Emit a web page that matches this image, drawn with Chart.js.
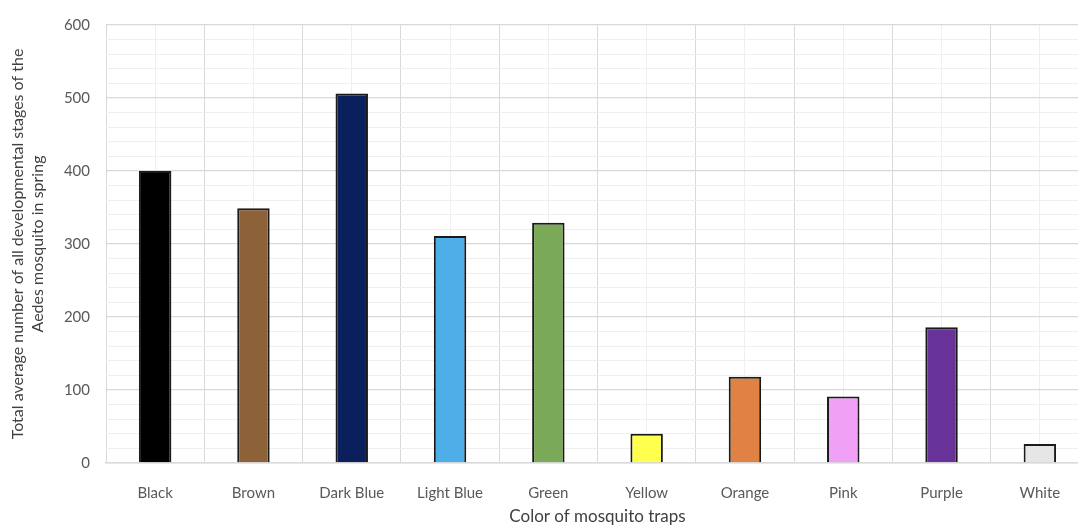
<!DOCTYPE html>
<html>
<head>
<meta charset="utf-8">
<title>Mosquito traps</title>
<script src="https://cdn.jsdelivr.net/npm/chart.js@4.4.1/dist/chart.umd.min.js"></script>
<style>
  html, body { margin: 0; padding: 0; background: #fff; overflow: hidden; }
  #wrap { width: 1100px; height: 527px; }
</style>
</head>
<body>
<div id="wrap"><canvas id="chart" width="1100" height="527"></canvas></div>
<script>
// data
const trapColors = ["Black", "Brown", "Dark Blue", "Light Blue", "Green", "Yellow", "Orange", "Pink", "Purple", "White"];
const springTotals = [400, 349, 506, 311, 329, 40, 118, 91, 186, 26];
const barFills = ["#000000", "#8e6239", "#0b1f5c", "#4daee8", "#7aa957", "#ffff4d", "#e08243", "#f0a0f5", "#673399", "#e6e6e6"];
const yMax = 600;

const MAJOR = "#d9d9d9";
const MINOR = "#efefef";
const TEXT = "#595959";
const FONT = "Lato, 'Open Sans', sans-serif";

const ctx = document.getElementById("chart").getContext("2d");

new Chart(ctx, {
  type: "bar",
  data: {
    labels: trapColors,
    datasets: [
      {
        data: springTotals,
        backgroundColor: barFills,
        borderColor: "#1a1a1a",
        borderWidth: 2,
        categoryPercentage: 1,
        barPercentage: 0.33,
        xAxisID: "x",
      },
    ],
  },
  options: {
    responsive: false,
    animation: false,
    layout: { padding: { top: 23, right: 11, left: 0, bottom: 0 } },
    plugins: {
      legend: { display: false },
      tooltip: { enabled: false },
    },
    scales: {
      x: {
        type: "category",
        position: "bottom",
        offset: true,
        grid: { offset: true, color: MAJOR, lineWidth: 1, drawTicks: false },
        border: { color: MAJOR, width: 1.5 },
        ticks: { color: TEXT, font: { family: FONT, size: 15 }, padding: 21, maxRotation: 0, autoSkip: false },
        title: {
          display: true,
          text: "Color of mosquito traps",
          color: "#404040",
          font: { family: FONT, size: 17 },
          padding: { top: 2, bottom: 0 },
        },
        afterFit: (scale) => { scale.height = 64; },
      },
      // second category axis only draws the lighter lines through bar centres
      x2: {
        type: "category",
        labels: trapColors,
        position: "top",
        offset: true,
        grid: { offset: false, color: MINOR, lineWidth: 1, drawTicks: false },
        border: { display: false },
        ticks: { display: false },
        afterFit: (scale) => { scale.height = 0; },
      },
      y: {
        min: 0,
        max: yMax,
        ticks: {
          stepSize: 20,
          autoSkip: false,
          color: TEXT,
          font: { family: FONT, size: 15 },
          padding: 16,
          callback: (v) => (v % 100 === 0 ? v : ""),
        },
        grid: {
          drawTicks: false,
          color: (c) => (c.tick && c.tick.value % 100 === 0 ? MAJOR : MINOR),
          lineWidth: (c) => (c.tick && c.tick.value % 100 === 0 ? 1.3 : 1),
        },
        border: { display: false },
        title: {
          display: true,
          text: ["Total average number of all developmental stages of the", "Aedes mosquito in spring"],
          color: "#404040",
          font: { family: FONT, size: 16, lineHeight: 1.3 },
          padding: { top: 7, bottom: 0 },
        },
        afterFit: (scale) => { scale.width = 106; },
      },
    },
  },
});
</script>
</body>
</html>
